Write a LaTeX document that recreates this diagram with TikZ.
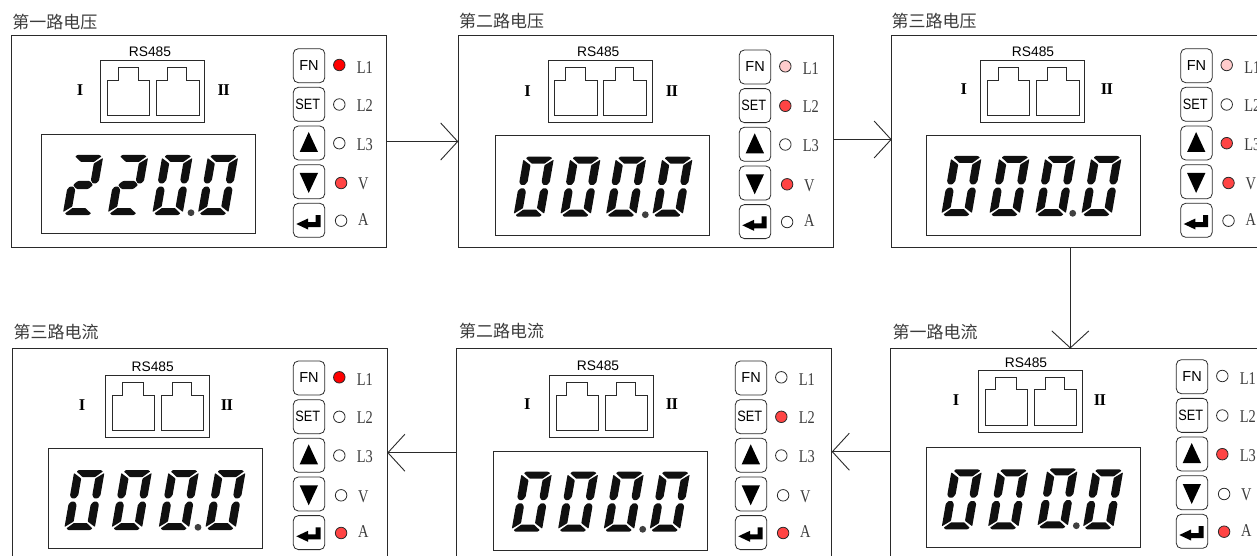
\documentclass[tikz,border=0pt]{standalone}
\usepackage{fontspec}
\setmainfont{Liberation Serif}
\newfontfamily\rsfont{Liberation Sans}
\newfontfamily\setfont[FakeStretch=0.85]{Liberation Sans}
\newfontfamily\ledfont[FakeStretch=0.8]{Liberation Serif}
\newfontfamily\cjk{Noto Sans CJK SC}
\usetikzlibrary{arrows.meta}
\definecolor{ln}{HTML}{2A2A2A}
\definecolor{txt}{HTML}{3C3C3C}
\definecolor{ledA}{HTML}{FF0000}
\definecolor{ledB}{HTML}{FF4444}
\definecolor{ledC}{HTML}{FFCCCC}
\definecolor{ledO}{HTML}{FFFFFF}
\definecolor{seg}{HTML}{101010}
\tikzset{
  panelbox/.style={draw=ln,line width=1pt,inner sep=0pt,outer sep=0pt,minimum width=375pt,minimum height=211pt},
  rsbox/.style={draw=ln,line width=.9pt,inner sep=0pt,outer sep=0pt,minimum width=104pt,minimum height=62pt},
  dispbox/.style={draw=ln,line width=.9pt,inner sep=0pt,outer sep=0pt,minimum width=214pt,minimum height=99.5pt},
  keybox/.style={draw=ln,line width=.8pt,rounded corners=5pt,inner sep=0pt,outer sep=0pt,minimum width=31.5pt,minimum height=34pt,text=black},
  ledmark/.style={circle,draw=ln,line width=.8pt,inner sep=0pt,outer sep=0pt,minimum size=11.5pt},
  titletext/.style={inner sep=0pt,anchor=west,text=txt,font=\cjk\fontsize{17}{17}\selectfont},
  rstext/.style={inner sep=0pt,yshift=-1pt,text=black,font=\rsfont\fontsize{13.8}{14}\selectfont},
  romantext/.style={inner sep=0pt,text=black,font=\bfseries\fontsize{16.5}{17}\selectfont},
  ledtext/.style={inner sep=0pt,text=txt,font=\ledfont\fontsize{18}{18}\selectfont},
  link/.style={draw=ln,line width=.9pt,-{Straight Barb[length=17pt,width=37pt,line width=.9pt]}},
  jack/.style={draw=ln,line width=.9pt},
}
\newcommand\panelbox[6]{% id L T title tx ty
  \node[panelbox,anchor=north west] (#1) at (#2,#3) {};
  \node[titletext] (#1title) at (#5,#6) {#4};
}
\newcommand\rsport[8]{% id L T tx ty Ix IIx Iy
  \node[rsbox,anchor=north west] (#1rs) at (#2,#3) {};
  \node[rstext] (#1rst) at (#4,#5) {RS485};
  \node[romantext] (#1i) at (#6,#8) {I};
  \node[romantext] (#1ii) at (#7,#8) {I\kern-.04em I};
  \begin{scope}[shift={(#2,#3)}]
    \draw[jack] (6.8,19.5) -- (17.5,19.5) -- (17.5,6.8) -- (37.8,6.8) -- (37.8,19.5) -- (49.2,19.5) -- (49.2,55.2) -- (6.8,55.2) -- cycle;
    \draw[jack] (55.8,19.5) -- (67.2,19.5) -- (67.2,6.8) -- (85.8,6.8) -- (85.8,19.5) -- (98.5,19.5) -- (98.5,55.2) -- (55.8,55.2) -- cycle;
  \end{scope}
}
\newcommand\dispbox[3]{\node[dispbox,anchor=north west] (#1disp) at (#2,#3) {};}
\newcommand\segT{\fill[seg,rounded corners=.5pt] (3.5,60) -- (25.5,60) -- (28,58.6) -- (21.2,53) -- (8.5,53) -- (1.8,58.4) -- cycle;}
\newcommand\segB{\fill[seg,rounded corners=.5pt] (3.5,0) -- (25.5,0) -- (27.4,1.6) -- (20.8,7) -- (8,7) -- (1.4,1.6) -- cycle;}
\newcommand\segM{\fill[seg,rounded corners=1pt] (4.5,30) -- (8.5,34) -- (20.5,34) -- (24.5,30) -- (20.5,26) -- (8.5,26) -- cycle;}
\newcommand\segUL{\fill[seg,rounded corners=.7pt] (-.7,57) -- (7.5,51.5) -- (7.5,35) -- (5.2,31.7) -- (1.5,31.7) -- (-.7,34.5) -- cycle;}
\newcommand\segLL{\fill[seg,rounded corners=.7pt] (-.7,25.5) -- (1.5,28.3) -- (5.2,28.3) -- (7.5,25) -- (7.5,8.5) -- (-.7,3) -- cycle;}
\newcommand\segUR{\fill[seg,rounded corners=.7pt] (29.7,57) -- (21.5,51.5) -- (21.5,35) -- (23.8,31.7) -- (27.5,31.7) -- (29.7,34.5) -- cycle;}
\newcommand\segLR{\fill[seg,rounded corners=.7pt] (29.7,25.5) -- (27.5,28.3) -- (23.8,28.3) -- (21.5,25) -- (21.5,8.5) -- (29.7,3) -- cycle;}
\newcommand\digitzero[2]{\begin{scope}[shift={(#1,#2)},x=1pt,y=1pt,xslant=.175]\segT\segB\segUL\segLL\segUR\segLR\end{scope}}
\newcommand\digittwo[2]{\begin{scope}[shift={(#1,#2)},x=1pt,y=1pt,xslant=.175]\segT\segB\segM\segLL\segUR\end{scope}}
\newcommand\dotmark[2]{\fill[black!75] (#1,#2) circle (3.4pt);}
\newcommand\keypad[8]{% id X Y c1..c5
  \begin{scope}[shift={(#2,#3)}]
    \node[keybox,anchor=north west,font=\rsfont\fontsize{14.5}{15}\selectfont] (#1fn) at (0,0) {\raisebox{-3pt}{FN}};
    \node[keybox,anchor=north west,font=\setfont\fontsize{15}{15}\selectfont] (#1set) at (0,38.65) {\raisebox{-2.4pt}{\kern-2.5pt SET}};
    \node[keybox,anchor=north west] (#1up) at (0,77.3) {};
    \node[keybox,anchor=north west] (#1dn) at (0,116) {};
    \node[keybox,anchor=north west] (#1en) at (0,154.6) {};
    \fill[black] (15.4,83.3) -- (24.7,103.3) -- (6.4,103.3) -- cycle;
    \fill[black] (15.4,144.3) -- (24.7,124.3) -- (6.4,124.3) -- cycle;
    \begin{scope}[shift={(0,154.6)}]
      \fill[black] (3,20.7) -- (14.7,15.2) -- (14.7,18.7) -- (22.4,18.7) -- (22.4,11.7) -- (27.4,11.7) -- (27.4,23.7) -- (14.7,23.7) -- (14.7,26.2) -- cycle;
    \end{scope}
    \node[ledmark,fill=#4] (#1la) at (46,16.3) {};
    \node[ledmark,fill=#5] (#1lb) at (46,55.8) {};
    \node[ledmark,fill=#6] (#1lc) at (46,94.5) {};
    \node[ledmark,fill=#7] (#1ld) at (47.8,134.3) {};
    \node[ledmark,fill=#8] (#1le) at (47.8,172) {};
    \node[ledtext] (#1ta) at (71.6,18.6) {L1};
    \node[ledtext] (#1tb) at (71.6,57) {L2};
    \node[ledtext] (#1tc) at (71.6,96) {L3};
    \node[ledtext] (#1td) at (70,135.3) {V};
    \node[ledtext] (#1te) at (70,171) {A};
  \end{scope}
}
\begin{document}
\begin{tikzpicture}[x=1pt,y=-1pt]
\path[fill=white,use as bounding box] (0,0) rectangle (1257,556);
\clip (0,0) rectangle (1257,556);
% top row
\panelbox{p}{11}{36}{第一路电压}{12.3}{22}
\rsport{p}{100.5}{60.5}{150}{51}{80}{223.7}{90}
\dispbox{p}{41.3}{134}
\digittwo{63.3}{215}\digittwo{108.3}{215}\digitzero{152.7}{215}\digitzero{198.3}{215}\dotmark{191}{212.7}
\keypad{p}{293.3}{48.7}{ledA}{ledO}{ledO}{ledB}{ledO}
%
\panelbox{q}{458.3}{36}{第二路电压}{459}{21.5}
\rsport{q}{548}{60.5}{598.3}{51}{527.7}{672}{90.7}
\dispbox{q}{495.3}{135.7}
\digitzero{514}{216.7}\digitzero{560.7}{216.7}\digitzero{606.3}{216.7}\digitzero{652.7}{216.7}\dotmark{645.3}{214.7}
\keypad{q}{739.3}{50}{ledC}{ledB}{ledO}{ledB}{ledO}
%
\panelbox{r}{891.7}{36}{第三路电压}{891.3}{21.5}
\rsport{r}{980.7}{60.5}{1033}{51}{963.7}{1107}{89}
\dispbox{r}{926.7}{135.7}
\digitzero{941.7}{216}\digitzero{989.7}{216}\digitzero{1035.7}{216}\digitzero{1081.7}{216}\dotmark{1072.7}{213.3}
\keypad{r}{1180.7}{48.7}{ledC}{ledO}{ledB}{ledB}{ledO}
% bottom row
\panelbox{u}{890}{348.5}{第一路电流}{892.3}{332}
\rsport{u}{978.3}{370.3}{1026}{361.7}{956}{1100}{400.3}
\dispbox{u}{926.7}{447.7}
\digitzero{942}{529.3}\digitzero{988.3}{529.3}\digitzero{1037.7}{528.3}\digitzero{1083.3}{529.3}\dotmark{1076.3}{525.7}
\keypad{u}{1176.3}{359.7}{ledO}{ledO}{ledB}{ledO}{ledB}
%
\panelbox{v}{456.7}{348.5}{第二路电流}{459}{331}
\rsport{v}{549.3}{375.7}{598}{365}{527.3}{672}{404.3}
\dispbox{v}{493}{451.3}
\digitzero{512}{531.7}\digitzero{558.3}{531.7}\digitzero{604}{531.7}\digitzero{650}{531.7}\dotmark{642.7}{529.3}
\keypad{v}{735.3}{361}{ledO}{ledB}{ledO}{ledO}{ledB}
%
\panelbox{w}{12.3}{348.5}{第三路电流}{13.3}{332}
\rsport{w}{105.3}{375.7}{152.7}{366}{82}{227}{405.3}
\dispbox{w}{48.3}{448.7}
\digitzero{64.7}{530}\digitzero{112}{530}\digitzero{159}{530}\digitzero{205.7}{530}\dotmark{198}{527.3}
\keypad{w}{293.3}{361}{ledA}{ledO}{ledO}{ledO}{ledB}
% connectors
\draw[link] (p.east) -- (q.west);
\draw[link] ([yshift=2pt]q.east) -- ([yshift=2pt]r.west);
\draw[link] ([xshift=-8.9pt]r.south) -- ([xshift=-7.2pt]u.north);
\draw[link] ([yshift=2.3pt]u.west) -- ([yshift=2.3pt]v.east);
\draw[link] ([yshift=1.3pt]v.west) -- ([yshift=1.3pt]w.east);
\end{tikzpicture}
\end{document}
